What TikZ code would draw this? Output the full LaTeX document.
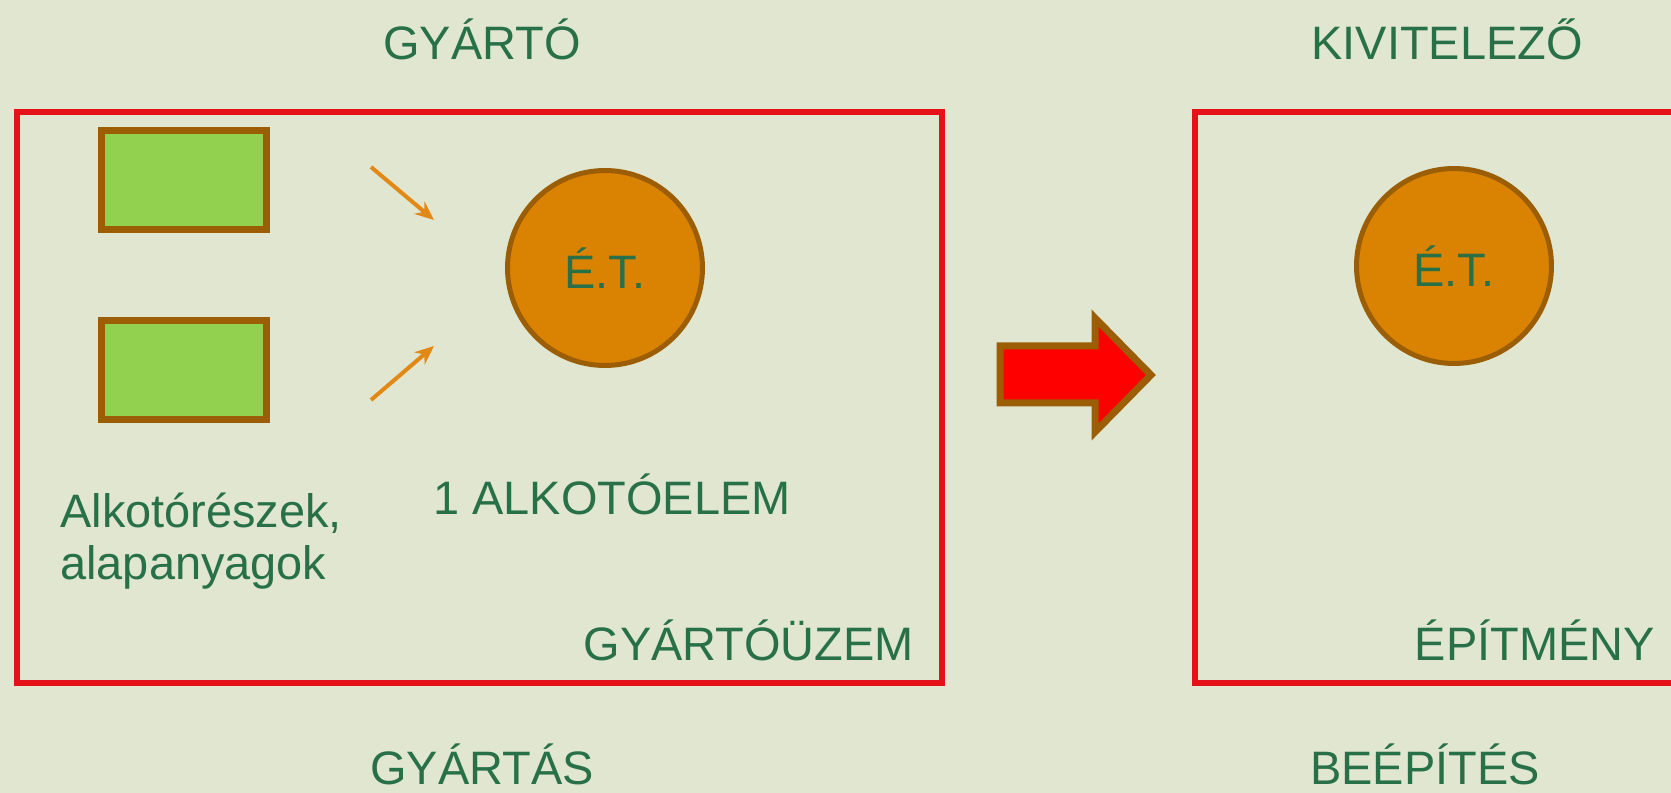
\documentclass[tikz,border=0pt]{standalone}
\usepackage{fontspec}
\setmainfont{Liberation Sans}
\usetikzlibrary{arrows.meta}

\definecolor{bggreen}{RGB}{224,230,208}
\definecolor{txtgreen}{RGB}{40,112,72}
\definecolor{boxred}{RGB}{228,18,24}
\definecolor{partgreen}{RGB}{146,208,80}
\definecolor{rimbrown}{RGB}{156,94,4}
\definecolor{unitorange}{RGB}{218,130,2}
\definecolor{feedorange}{RGB}{226,136,20}

\begin{document}
\begin{tikzpicture}[x=0.02cm, y=-0.02cm,
    lbl/.style={text=txtgreen, inner sep=0pt, font=\fontsize{26.7}{30}\selectfont},
    plant/.style={draw=boxred, line width=0.11cm},
    part/.style={draw=rimbrown, fill=partgreen, line width=0.14cm,
      minimum width=3.32cm, minimum height=2cm, inner sep=0pt},
    unit/.style={circle, draw=rimbrown, fill=unitorange, line width=0.1cm,
      minimum size=3.9cm, lbl},
    feed/.style={draw=feedorange, line width=0.08cm,
      -{Stealth[length=0.38cm,width=0.32cm]}}]
    \useasboundingbox (0,0) rectangle (1671,793);
    \fill [bggreen] (0,0) rectangle (1671,793);
    \clip (0,0) rectangle (1671,793);
    % the two frames
    \draw [plant] (17,112) rectangle (942,683);
    \draw [plant] (1195,112) rectangle (1700,683);
    % parts and units
    \node [part] (part1) at (184,180) {};
    \node [part] (part2) at (184,370) {};
    \node [unit] (unitL) at (605,268) {É.T.};
    \node [unit] (unitR) at (1454,266) {É.T.};
    \coordinate (f1s) at (371,167);
    \coordinate (f1e) at (434,220);
    \coordinate (f2s) at (371,400);
    \coordinate (f2e) at (434,346);
    \draw [feed] (f1s) -- (f1e);
    \draw [feed] (f2s) -- (f2e);
    % block arrow between the frames
    \draw [draw=rimbrown, fill=red, line width=0.14cm, line join=miter]
      (1000,346) -- (1095,346) -- (1095,318) -- (1151,375)
      -- (1095,432) -- (1095,403) -- (1000,403) -- cycle;
    % texts
    \node [lbl, anchor=base] (gyarto) at (482,60) {GYÁRTÓ};
    \node [lbl, anchor=base] (kivit) at (1447,60) {KIVITELEZŐ};
    \node [lbl, anchor=base] (elem) at (612,515) {1 ALKOTÓELEM};
    \node [lbl, anchor=base west] (alk1) at (60,528) {Alkotórészek,};
    \node [lbl, anchor=base west] (alk2) at (60,580) {alapanyagok};
    \node [lbl, anchor=base east] (uzem) at (914,661) {GYÁRTÓÜZEM};
    \node [lbl, anchor=base east] (epit) at (1655,661) {ÉPÍTMÉNY};
    \node [lbl, anchor=base] (gyartas) at (482,785) {GYÁRTÁS};
    \node [lbl, anchor=base] (beep) at (1425,785) {BEÉPÍTÉS};
  \end{tikzpicture}
\end{document}
